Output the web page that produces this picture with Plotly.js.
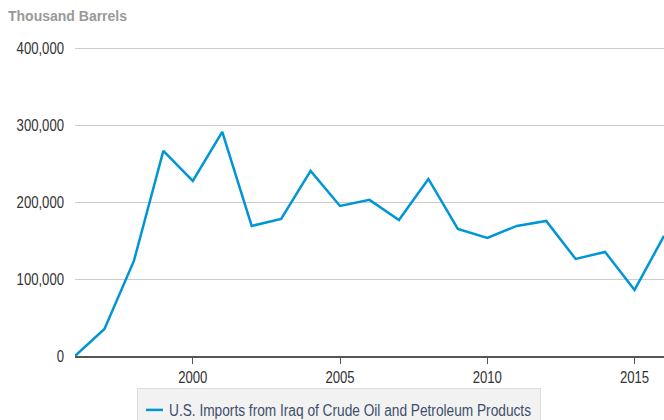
<!DOCTYPE html>
<html>
<head>
<meta charset="utf-8">
<script src="https://cdn.plot.ly/plotly-3.0.1.min.js"></script>
<style>html,body{margin:0;padding:0;background:#fff;}#chart{width:664px;height:420px;}</style>
</head>
<body>
<div id="chart"></div>
<script>
const years = [1996,1997,1998,1999,2000,2001,2002,2003,2004,2005,2006,2007,2008,2009,2010,2011,2012,2013,2014,2015,2016];
const imports = [0,35200,123800,267100,228000,291900,169400,178500,241000,195400,203300,177200,230600,165500,153700,169400,175900,126400,135500,86000,156400];
const seriesName = 'U.S. Imports from Iraq of Crude Oil and Petroleum Products';
const yTicks = [0,100000,200000,300000,400000];
const yTickLabels = ['0','100,000','200,000','300,000','400,000'];
const xTicks = [2000,2005,2010,2015];

const font = 'Liberation Sans, Arial, sans-serif';

Plotly.newPlot('chart', [{
  x: years, y: imports, type: 'scatter', mode: 'lines', name: seriesName,
  line: {color: '#0096d6', width: 2.5}
}], {
  width: 664, height: 420,
  margin: {l: 75, r: 0, t: 45, b: 64},
  paper_bgcolor: '#fff', plot_bgcolor: '#fff',
  font: {family: font, size: 12, color: '#333'},
  title: {text: '<b>Thousand Barrels</b>', font: {family: font, size: 14, color: '#999'},
          x: 8/664, xanchor: 'left', xref: 'container', y: 1 - 16/420, yanchor: 'middle', yref: 'container'},
  xaxis: {range: [1996, 2016], tickvals: xTicks, ticktext: xTicks.map(String), showgrid: false, zeroline: false,
          showline: true, linecolor: '#555', linewidth: 1.5, ticks: 'outside', ticklen: 6, tickcolor: '#555',
          tickfont: {family: font, size: 16, color: '#333'}, fixedrange: true},
  yaxis: {range: [0, 405000], tickvals: yTicks, ticktext: yTickLabels, showgrid: true, gridcolor: '#cccccc', gridwidth: 1,
          zeroline: false, showline: false, ticks: '', ticklabelstandoff: 10,
          tickfont: {family: font, size: 16, color: '#333'}, fixedrange: true},
  showlegend: true,
  legend: {orientation: 'h', xref: 'container', yref: 'container', x: 137/664, xanchor: 'left', y: 1 - 388/420, yanchor: 'top',
           bgcolor: '#f2f2f2', bordercolor: '#dddddd', borderwidth: 1,
           font: {family: font, size: 16, color: '#3d4f6b'}}
}, {displayModeBar: false, staticPlot: true}).then(function (gd) {
  // emulate the condensed face of the original
  gd.querySelectorAll('.xtick text, .ytick text').forEach(function (t) {
    const w = t.getComputedTextLength();
    t.setAttribute('textLength', (w * 0.82).toFixed(1));
    t.setAttribute('lengthAdjust', 'spacingAndGlyphs');
  });
  const lt = gd.querySelector('.legendtext');
  if (lt) {
    lt.setAttribute('x', '31');
    lt.setAttribute('textLength', '362');
    lt.setAttribute('lengthAdjust', 'spacingAndGlyphs');
    lt.setAttribute('text-anchor', 'start');
  }
  const lp = gd.querySelector('.legendlines path');
  if (lp) lp.setAttribute('d', 'M8,0h17');
  const bg = gd.querySelector('.legend .bg');
  if (bg) { bg.setAttribute('width', '403'); bg.setAttribute('height', '40'); }
  const tr = gd.querySelector('.legend .traces');
  if (tr) {
    const m = /translate\(([^,]+),\s*([^)]+)\)/.exec(tr.getAttribute('transform') || '');
    if (m) tr.setAttribute('transform', 'translate(' + m[1] + ',' + (parseFloat(m[2]) + 4) + ')');
  }
});
</script>
</body>
</html>
